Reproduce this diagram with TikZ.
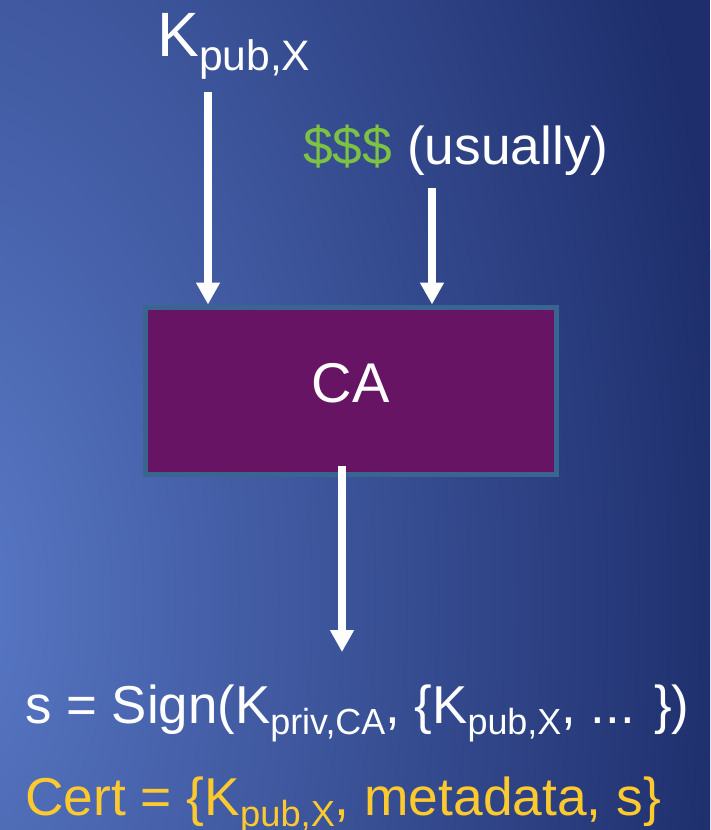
\documentclass[tikz,border=0pt]{standalone}
\usepackage{fontspec}
\setmainfont{Liberation Sans}
\usetikzlibrary{arrows.meta}

\definecolor{bgLight}{HTML}{5A7AC8}
\definecolor{bgDark}{HTML}{1E2E6C}
\definecolor{caFill}{HTML}{671464}
\definecolor{caEdge}{HTML}{3A6591}
\definecolor{moneyGreen}{HTML}{7DC242}
\definecolor{certYellow}{HTML}{FCC92F}

% lowered, smaller text for the key subscripts
\newcommand{\keysub}[1]{\raisebox{-0.21em}{\scalebox{0.68}{#1}}}

\begin{document}
\begin{tikzpicture}[x=0.75pt, y=-0.75pt,
    flow/.style={white, line width=6pt, -{Triangle[width=17pt, length=16.5pt]}},
    label/.style={inner sep=0pt, anchor=base west, text=white}]
  % ---------------------------------------------------------------- background
  \useasboundingbox (0,0) rectangle (710,830);
  \begin{scope}
    \clip (0,0) rectangle (710,830);
    \fill[bgDark] (0,0) rectangle (710,830);
    \shade[inner color=bgLight, outer color=bgDark] (-64,600) ellipse (800 and 1400);
  \end{scope}
  % ---------------------------------------------------------------- the CA box
  \node[draw=caEdge, line width=3.75pt, fill=caFill, minimum width=307.9pt, minimum height=125.6pt,
        text=white, text depth=12pt, font=\fontsize{42}{46}\selectfont] (ca) at (350.75,390.75) {CA};
  % ---------------------------------------------------------------- inputs
  \node[label, font=\fontsize{47}{52}\selectfont] (kpub) at (157,57) {K\keysub{pub,X}};
  \node[label, font=\fontsize{40}{44}\selectfont] (money) at (303,165)
    {\textcolor{moneyGreen}{\$\$\$} (usually)};
  \coordinate (kin) at (208,92);
  \coordinate (payin) at (432,188);
  \draw[flow] (kin) -- (kin |- ca.north);
  \draw[flow] (payin) -- (payin |- ca.north);
  % ---------------------------------------------------------------- output
  \coordinate (sigout) at (342,466);
  \coordinate (sigend) at (342,652);
  \draw[flow] (sigout) -- (sigend);
  \node[label, font=\fontsize{40}{44}\selectfont] (sign) at (25,723)
    {\scalebox{0.99}[1]{s = Sign(K\keysub{priv,CA}, \{K\keysub{pub,X}, ... \})}};
  \node[label, text=certYellow, font=\fontsize{40}{44}\selectfont] (cert) at (25,815)
    {Cert = \{K\keysub{pub,X}, metadata, s\}};
\end{tikzpicture}
\end{document}
